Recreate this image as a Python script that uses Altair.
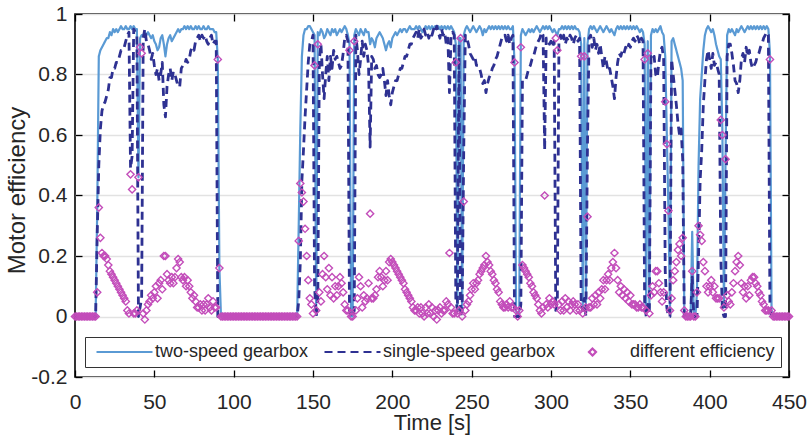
import altair as alt
import pandas as pd

# sampling grid (seconds)
time_s = list(range(0, 451))

# motor efficiency, two-speed gearbox (1 sample per second)
two_speed = [
    0, 0, 0, 0, 0, 0, 0, 0, 0, 0,                                   # 0
    0, 0, 0, 0, 0.35, 0.86, 0.88, 0.89, 0.90, 0.91,                 # 10
    0.92, 0.92, 0.94, 0.93, 0.95, 0.94, 0.95, 0.94, 0.95, 0.96,     # 20
    0.95, 0.95, 0.96, 0.95, 0.95, 0.96, 0.95, 0.96, 0.95, 0.95,     # 30
    0.46, 0.92, 0.93, 0.93, 0.94, 0.93, 0.94, 0.93, 0.92, 0.93,     # 40
    0.91, 0.90, 0.88, 0.89, 0.92, 0.93, 0.90, 0.86, 0.90, 0.92,     # 50
    0.93, 0.91, 0.92, 0.93, 0.94, 0.95, 0.94, 0.95, 0.95, 0.96,     # 60
    0.95, 0.96, 0.95, 0.96, 0.95, 0.95, 0.96, 0.95, 0.96, 0.95,     # 70
    0.95, 0.96, 0.95, 0.95, 0.96, 0.95, 0.95, 0.95, 0.94, 0.94,     # 80
    0.85, 0.16, 0, 0, 0, 0, 0, 0, 0, 0,                             # 90
    0, 0, 0, 0, 0, 0, 0, 0, 0, 0,                                   # 100
    0, 0, 0, 0, 0, 0, 0, 0, 0, 0,                                   # 110
    0, 0, 0, 0, 0, 0, 0, 0, 0, 0,                                   # 120
    0, 0, 0, 0, 0, 0, 0, 0, 0, 0,                                   # 130
    0, 0.30, 0.62, 0.86, 0.93, 0.95, 0.95, 0.96, 0.96, 0.95,        # 140
    0.94, 0.93, 0.02, 0.94, 0.93, 0.95, 0.94, 0.92, 0.93, 0.95,     # 150
    0.94, 0.93, 0.95, 0.94, 0.95, 0.93, 0.94, 0.95, 0.94, 0.95,     # 160
    0.96, 0.95, 0.93, 0.90, 0, 0, 0.93, 0.95, 0.94, 0.93,           # 170
    0.95, 0.94, 0.93, 0.95, 0.94, 0.94, 0.90, 0.92, 0.91, 0.89,     # 180
    0.92, 0.93, 0.94, 0.93, 0.92, 0.90, 0.88, 0.90, 0.91, 0.89,     # 190
    0.92, 0.93, 0.94, 0.93, 0.94, 0.95, 0.94, 0.95, 0.95, 0.94,     # 200
    0.95, 0.96, 0.95, 0.95, 0.95, 0.96, 0.95, 0.96, 0.95, 0.94,     # 210
    0.95, 0.96, 0.95, 0.96, 0.95, 0.96, 0.95, 0.96, 0.95, 0.96,     # 220
    0.95, 0.96, 0.95, 0.96, 0.95, 0.96, 0.95, 0.96, 0.95, 0.94,     # 230
    0.90, 0.03, 0.92, 0.92, 0.02, 0.93, 0.95, 0.96, 0.95, 0.94,     # 240
    0.95, 0.96, 0.95, 0.94, 0.95, 0.96, 0.95, 0.93, 0.95, 0.94,     # 250
    0.95, 0.96, 0.95, 0.96, 0.95, 0.96, 0.95, 0.96, 0.95, 0.96,     # 260
    0.95, 0.96, 0.95, 0.96, 0.95, 0.95, 0.96, 0.84, 0.02, 0,        # 270
    0.02, 0.93, 0.95, 0.94, 0.93, 0.94, 0.95, 0.94, 0.95, 0.94,     # 280
    0.95, 0.96, 0.95, 0.94, 0.95, 0.96, 0.95, 0.96, 0.95, 0.96,     # 290
    0.95, 0.94, 0.95, 0.94, 0.93, 0.95, 0.95, 0.96, 0.95, 0.96,     # 300
    0.95, 0.96, 0.95, 0.96, 0.95, 0.96, 0.95, 0.95, 0.94, 0.90,     # 310
    0.03, 0.92, 0.03, 0.90, 0.95, 0.96, 0.95, 0.96, 0.95, 0.94,     # 320
    0.95, 0.96, 0.95, 0.94, 0.95, 0.96, 0.95, 0.94, 0.95, 0.94,     # 330
    0.93, 0.95, 0.96, 0.95, 0.96, 0.95, 0.96, 0.95, 0.96, 0.95,     # 340
    0.96, 0.95, 0.96, 0.95, 0.96, 0.95, 0.94, 0.95, 0.94, 0.90,     # 350
    0.02, 0.91, 0.03, 0.93, 0.95, 0.94, 0.95, 0.94, 0.95, 0.96,     # 360
    0.94, 0.93, 0.86, 0.60, 0.35, 0.02, 0.91, 0.92, 0.90, 0.88,     # 370
    0.86, 0.84, 0.82, 0.78, 0.02, 0, 0, 0, 0, 0.28,                 # 380
    0, 0, 0.08, 0.50, 0.72, 0.80, 0.88, 0.93, 0.95, 0.96,           # 390
    0.95, 0.94, 0.95, 0.93, 0.90, 0.88, 0.86, 0.85, 0.62, 0.03,     # 400
    0.52, 0.93, 0.95, 0.94, 0.95, 0.94, 0.93, 0.95, 0.94, 0.95,     # 410
    0.96, 0.95, 0.94, 0.95, 0.96, 0.95, 0.96, 0.95, 0.96, 0.95,     # 420
    0.96, 0.95, 0.96, 0.95, 0.96, 0.95, 0.96, 0.95, 0.87, 0.02,     # 430
    0, 0, 0, 0, 0, 0, 0, 0, 0, 0,                                   # 440
    0,                                                              # 450
]

# motor efficiency, single-speed gearbox (1 sample per second)
single_speed = [
    0, 0, 0, 0, 0, 0, 0, 0, 0, 0,                                   # 0
    0, 0, 0, 0, 0.27, 0.50, 0.62, 0.68, 0.70, 0.71,                 # 10
    0.73, 0.75, 0.79, 0.79, 0.82, 0.82, 0.84, 0.84, 0.86, 0.88,     # 20
    0.88, 0.89, 0.91, 0.93, 0.94, 0.49, 0.53, 0.95, 0.94, 0.93,     # 30
    0, 0.03, 0.06, 0.92, 0.95, 0.91, 0.90, 0.88, 0.85, 0.87,        # 40
    0.83, 0.80, 0.82, 0.78, 0.80, 0.84, 0.70, 0.66, 0.76, 0.80,     # 50
    0.82, 0.78, 0.81, 0.80, 0.78, 0.76, 0.76, 0.82, 0.83, 0.83,     # 60
    0.85, 0.84, 0.85, 0.88, 0.89, 0.88, 0.91, 0.92, 0.93, 0.91,     # 70
    0.93, 0.92, 0.93, 0.91, 0.90, 0.92, 0.93, 0.90, 0.91, 0.91,     # 80
    0, 0, 0, 0, 0, 0, 0, 0, 0, 0,                                   # 90
    0, 0, 0, 0, 0, 0, 0, 0, 0, 0,                                   # 100
    0, 0, 0, 0, 0, 0, 0, 0, 0, 0,                                   # 110
    0, 0, 0, 0, 0, 0, 0, 0, 0, 0,                                   # 120
    0, 0, 0, 0, 0, 0, 0, 0, 0, 0,                                   # 130
    0, 0.05, 0.18, 0.45, 0.55, 0.66, 0.75, 0.84, 0.90, 0.91,        # 140
    0.93, 0.10, 0, 0.04, 0.85, 0.90, 0.80, 0.72, 0.80, 0.86,        # 150
    0.78, 0.86, 0.82, 0.88, 0.85, 0.86, 0.84, 0.82, 0.83, 0.87,     # 160
    0.92, 0.93, 0.91, 0.02, 0, 0, 0.02, 0.93, 0.88, 0.80,           # 170
    0.85, 0.91, 0.86, 0.90, 0.88, 0.83, 0.56, 0.86, 0.85, 0.82,     # 180
    0.83, 0.80, 0.79, 0.80, 0.82, 0.78, 0.73, 0.78, 0.73, 0.70,     # 190
    0.74, 0.76, 0.78, 0.78, 0.80, 0.82, 0.82, 0.84, 0.86, 0.86,     # 200
    0.88, 0.90, 0.90, 0.92, 0.93, 0.94, 0.92, 0.95, 0.92, 0.93,     # 210
    0.95, 0.93, 0.94, 0.92, 0.94, 0.93, 0.95, 0.94, 0.96, 0.94,     # 220
    0.92, 0.95, 0.93, 0.94, 0.90, 0.92, 0.74, 0.93, 0.94, 0.93,     # 230
    0.06, 0.02, 0.90, 0, 0.02, 0.55, 0.93, 0.92, 0.90, 0.87,        # 240
    0.86, 0.85, 0.86, 0.83, 0.83, 0.82, 0.80, 0.77, 0.78, 0.74,     # 250
    0.77, 0.79, 0.80, 0.82, 0.83, 0.85, 0.86, 0.88, 0.90, 0.92,     # 260
    0.92, 0.93, 0.91, 0.93, 0.90, 0.92, 0.93, 0, 0, 0,              # 270
    0, 0.04, 0.78, 0.78, 0.78, 0.80, 0.82, 0.83, 0.85, 0.86,        # 280
    0.88, 0.90, 0.91, 0.92, 0.94, 0.93, 0.55, 0.92, 0.92, 0.90,     # 290
    0.91, 0.89, 0.91, 0.02, 0.05, 0.91, 0.93, 0.91, 0.93, 0.90,     # 300
    0.92, 0.91, 0.93, 0.92, 0.90, 0.92, 0.93, 0.91, 0.92, 0.04,     # 310
    0.02, 0.06, 0, 0.57, 0.92, 0.93, 0.89, 0.92, 0.88, 0.90,        # 320
    0.87, 0.90, 0.86, 0.82, 0.86, 0.84, 0.81, 0.82, 0.79, 0.76,     # 330
    0.72, 0.79, 0.84, 0.87, 0.86, 0.88, 0.87, 0.89, 0.88, 0.90,     # 340
    0.89, 0.91, 0.92, 0.91, 0.93, 0.92, 0.90, 0.92, 0.91, 0.05,     # 350
    0, 0.04, 0.02, 0.86, 0.85, 0.86, 0.80, 0.79, 0.84, 0.88,        # 360
    0.89, 0.85, 0.15, 0.03, 0, 0, 0.85, 0.80, 0.75, 0.70,           # 370
    0.64, 0.60, 0.62, 0.52, 0, 0, 0, 0, 0, 0.13,                    # 380
    0, 0, 0, 0.20, 0.45, 0.55, 0.70, 0.78, 0.85, 0.88,              # 390
    0.85, 0.82, 0.87, 0.83, 0.84, 0.82, 0.80, 0.20, 0.02, 0,        # 400
    0, 0.86, 0.90, 0.90, 0.87, 0.83, 0.78, 0.77, 0.74, 0.78,        # 410
    0.85, 0.87, 0.84, 0.89, 0.86, 0.88, 0.84, 0.82, 0.83, 0.84,     # 420
    0.86, 0.87, 0.89, 0.90, 0.92, 0.93, 0.94, 0.93, 0.02, 0,        # 430
    0, 0, 0, 0, 0, 0, 0, 0, 0, 0,                                   # 440
    0,                                                              # 450
]

# the diamonds show the efficiency difference (two-speed minus single-speed)
different_eff = [round(a - b, 3) for a, b in zip(two_speed, single_speed)]

series_names = ["two-speed gearbox", "single-speed gearbox", "different efficiency"]
series_colors = ["#5A9AD4", "#2E3192", "#C34DBA"]
x_ticks = [0, 50, 100, 150, 200, 250, 300, 350, 400, 450]
y_ticks = [-0.2, 0, 0.2, 0.4, 0.6, 0.8, 1]

df = pd.concat(
    [
        pd.DataFrame({"t": time_s, "v": two_speed, "series": series_names[0]}),
        pd.DataFrame({"t": time_s, "v": single_speed, "series": series_names[1]}),
        pd.DataFrame({"t": time_s, "v": different_eff, "series": series_names[2]}),
    ],
    ignore_index=True,
)

FONT = "Liberation Sans"
TXT = "#262626"

xscale = alt.Scale(domain=[0, 450], nice=False, zero=False)
yscale = alt.Scale(domain=[-0.2, 1], nice=False, zero=False)

# legend glyphs: long horizontal strokes for the two lines, a (shifted) diamond for the points
LINE_GLYPH = "M-1,0H15"
DIAMOND_GLYPH = "M5,-1L6,0L5,1L4,0Z"
color_enc = alt.Color("series:N", title=None,
                      scale=alt.Scale(domain=series_names, range=series_colors))
dash_enc = alt.StrokeDash("series:N", title=None,
                          scale=alt.Scale(domain=series_names, range=[[1, 0], [8, 5], [1, 0]]))
shape_enc = alt.Shape("series:N", title=None,
                      scale=alt.Scale(domain=series_names,
                                      range=[LINE_GLYPH, LINE_GLYPH, DIAMOND_GLYPH]))

x_main = alt.Axis(values=x_ticks, format="d", title="Time [s]", grid=False, domain=False,
                  offset=-7, tickSize=7, tickColor="black", tickWidth=1.3, labelFlush=False,
                  labelPadding=14, labelFontSize=21, labelFont=FONT, labelColor=TXT,
                  titleFont=FONT, titleFontSize=22, titleColor=TXT, titleFontWeight="normal",
                  titlePadding=0)
y_main = alt.Axis(values=y_ticks, title="Motor efficiency", grid=True, gridColor="#e2e2e2",
                  gridWidth=1.5, domain=False, offset=-7, tickSize=7, tickColor="black",
                  tickWidth=1.3, labelPadding=8, labelFontSize=21, labelFont=FONT,
                  labelColor=TXT, labelExpr="'' + round(datum.value * 10) / 10",
                  labelFlush=False,
                  titleFont=FONT, titleFontSize=24, titleColor=TXT, titleFontWeight="normal",
                  titlePadding=1, titleY=176)
x_top = alt.Axis(values=x_ticks, orient="top", labels=False, title=None, grid=False,
                 domain=False, offset=-7, tickSize=7, tickColor="black", tickWidth=1.3)
y_right = alt.Axis(values=y_ticks, orient="right", labels=False, title=None, grid=False,
                   domain=False, offset=-7, tickSize=7, tickColor="black", tickWidth=1.3)

base = alt.Chart(df)

solid = base.transform_filter(alt.datum.series == series_names[0]).mark_line(
    strokeJoin="round", strokeWidth=2.2
).encode(
    x=alt.X("t:Q", scale=xscale, axis=x_main),
    y=alt.Y("v:Q", scale=yscale, axis=y_main),
    color=color_enc,
    strokeDash=dash_enc,
)

dashed = base.transform_filter(alt.datum.series == series_names[1]).mark_line(
    strokeJoin="round", strokeWidth=2.8
).encode(
    x=alt.X("t:Q", scale=xscale, axis=x_top),
    y=alt.Y("v:Q", scale=yscale, axis=y_right),
    color=color_enc,
    strokeDash=dash_enc,
)

diamonds = base.transform_filter(alt.datum.series == series_names[2]).mark_point(
    shape="diamond", filled=False, opacity=1, size=52, strokeWidth=1.4
).encode(
    x=alt.X("t:Q", scale=xscale, axis=None),
    y=alt.Y("v:Q", scale=yscale, axis=None),
    color=color_enc,
)

# carries only the legend glyph shapes (its filter keeps no rows, so it draws nothing)
legend_keys = base.transform_filter("datum.t < 0").mark_point(
    filled=False, opacity=1, strokeWidth=1.4
).encode(
    x=alt.X("t:Q", scale=xscale, axis=None),
    y=alt.Y("v:Q", scale=yscale, axis=None),
    color=color_enc,
    shape=shape_enc,
)

chart = alt.layer(solid, dashed, diamonds, legend_keys).resolve_axis(
    x="independent", y="independent"
).properties(
    width=714,
    height=363,
    autosize=alt.AutoSizeParams(type="none"),
    padding={"left": 75, "top": 14, "right": 19, "bottom": 63},
).configure_view(
    stroke="black", strokeWidth=1.6
).configure_legend(
    orient="none", legendX=10, legendY=323, direction="horizontal", columns=3,
    labelFont=FONT, labelFontSize=18, labelColor=TXT, labelOffset=46, labelLimit=400,
    symbolSize=49, symbolStrokeWidth=2.2,
    padding=6, columnPadding=10, strokeColor="#333333", fillColor="white",
)

chart.save("out.html", embed_options={"renderer": "svg", "actions": False})
